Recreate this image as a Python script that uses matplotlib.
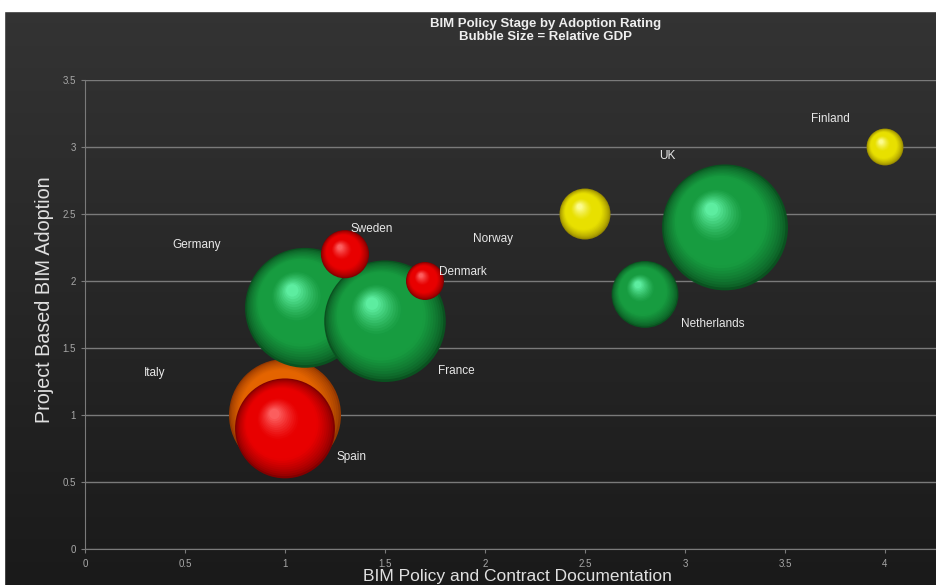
import numpy as np
import matplotlib
matplotlib.use("Agg")
import matplotlib.pyplot as plt
from matplotlib.transforms import offset_copy
from matplotlib.colors import to_rgb

# ---- data ----
countries = ['Italy', 'Spain', 'Germany', 'France', 'Sweden', 'Denmark',
             'Norway', 'Netherlands', 'UK', 'Finland']
policy = [1.0, 1.0, 1.1, 1.5, 1.3, 1.7, 2.5, 2.8, 3.2, 4.0]
adoption = [1.0, 0.9, 1.8, 1.7, 2.2, 2.0, 2.5, 1.9, 2.4, 3.0]
rel_gdp = [31.4, 25.0, 36.0, 37.0, 5.8, 3.6, 6.5, 11.2, 39.7, 3.4]
rating = ['orange', 'red', 'green', 'green', 'red', 'red',
          'yellow', 'green', 'green', 'yellow']
label_x = [0.35, 1.335, 0.56, 1.855, 1.435, 1.89, 2.04, 3.14, 2.91, 3.725]
label_y = [1.31, 0.69, 2.27, 1.33, 2.39, 2.07, 2.31, 1.68, 2.93, 3.21]
xticks = [0, 0.5, 1, 1.5, 2, 2.5, 3, 3.5, 4]
yticks = [0, 0.5, 1, 1.5, 2, 2.5, 3, 3.5]

palette = {
    'green': ('#0a5220', '#179c40', '#66f8ac'),
    'red': ('#820000', '#e80000', '#ff6a6a'),
    'yellow': ('#968800', '#e8e000', '#ffffa0'),
    'orange': ('#943800', '#e46400', '#ffa040'),
}

W, H = 937, 585
fig = plt.figure(figsize=(W / 100, H / 100), dpi=100)

# background gradient
bg = fig.add_axes([0, 0, 1, 1], zorder=-10)
grad = np.linspace(0, 1, 256).reshape(-1, 1)
top = np.array(to_rgb('#343434'))
bot = np.array(to_rgb('#1a1a1a'))
img = top[None, None, :] * (1 - grad[:, :, None]) + bot[None, None, :] * grad[:, :, None]
bg.imshow(img, aspect='auto', extent=[0, 1, 0, 1])
bg.set_xlim(0, 1)
bg.set_ylim(0, 1)
bg.axis('off')
# white borders at top and left
bg.axhspan(1 - 11 / H, 1, color='white', zorder=5)
bg.axvspan(0, 4 / W, color='white', zorder=5)

left_px, right_px, top_px, bot_px = 85, 937, 80, 549
ax = fig.add_axes([left_px / W, (H - bot_px) / H,
                   (right_px - left_px) / W, (bot_px - top_px) / H])
ax.set_facecolor('none')
ax.set_xlim(0, (right_px - left_px) / 200)
ax.set_ylim(0, 3.5)

ax.set_yticks(yticks)
ax.set_yticklabels([f'{v:g}' for v in yticks])
ax.set_xticks(xticks)
ax.set_xticklabels([f'{v:g}' for v in xticks])
ax.yaxis.grid(True, color='#7a7a7a', lw=1.0)
ax.set_axisbelow(True)
for s in ['top', 'right']:
    ax.spines[s].set_visible(False)
ax.spines['left'].set_color('#7a7a7a')
ax.spines['bottom'].set_color('#7a7a7a')
ax.tick_params(axis='both', colors='#7a7a7a', labelcolor='#a8a8a8',
               labelsize=7, length=3, width=0.8)
ax.tick_params(axis='x', pad=4)
for t in ax.get_xticklabels() + ax.get_yticklabels():
    t.set_fontfamily('Liberation Sans')


def mix(a, b, t):
    a = np.array(to_rgb(a)); b = np.array(to_rgb(b))
    return tuple(a * (1 - t) + b * t)


N = 28
for i in range(len(countries)):
    dark, base, light = palette[rating[i]]
    s_full = rel_gdp[i] * 207.0
    R = np.sqrt(s_full) / 2.0  # radius in points
    for k in range(N):
        f = k / N
        rf = 1 - f * 0.93
        if f < 0.3:
            c = mix(dark, base, (f / 0.3) ** 0.7)
        elif f < 0.6:
            c = mix(base, base, 0)
        else:
            c = mix(base, light, ((f - 0.6) / 0.4) ** 1.3)
        tr = offset_copy(ax.transData, fig=fig, x=-0.22 * R * f, y=0.30 * R * f,
                         units='points')
        ax.scatter([policy[i]], [adoption[i]], s=s_full * rf ** 2, color=c,
                   edgecolors='none', transform=tr, zorder=3 + i * 0.01)

for i, name in enumerate(countries):
    ax.text(label_x[i], label_y[i], name, color='#e8e8e8', fontsize=8.5,
            ha='center', va='center', family='Liberation Sans', zorder=10)

fig.text(546 / W, 1 - 30.5 / H, 'BIM Policy Stage by Adoption Rating\nBubble Size = Relative GDP',
         ha='center', va='center', color='#eeeeee', fontsize=9.5,
         fontweight='bold', family='Liberation Sans', linespacing=1.15)
fig.text(45 / W, 1 - 300 / H, 'Project Based BIM Adoption', rotation=90,
         ha='center', va='center', color='#e0e0e0', fontsize=14.2,
         family='Liberation Sans')
fig.text(517 / W, 1 - 576 / H, 'BIM Policy and Contract Documentation',
         ha='center', va='center', color='#e0e0e0', fontsize=12.5,
         family='Liberation Sans')

fig.savefig('out.png', dpi=100, facecolor='#262626')
